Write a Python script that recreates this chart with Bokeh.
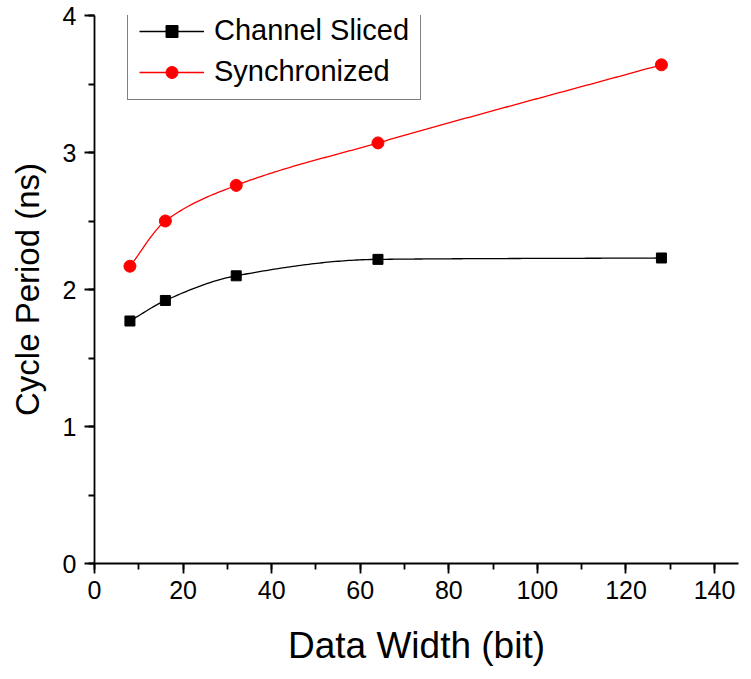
import numpy as np
from bokeh.plotting import figure
from bokeh.models import SingleIntervalTicker, Range1d, Legend, LegendItem
from bokeh.embed import file_html
from bokeh.resources import INLINE

# ---- data ----
data_width = [8, 16, 32, 64, 128]
channel_sliced = [1.77, 1.92, 2.10, 2.22, 2.23]
synchronized = [2.17, 2.50, 2.76, 3.07, 3.64]
series_names = ["Channel Sliced", "Synchronized"]
x_title = "Data Width (bit)"
y_title = "Cycle Period (ns)"


def smooth(xs, ys, n=200):
    """Monotone cubic (Fritsch-Carlson) curve through the data points."""
    x = np.asarray(xs, float)
    y = np.asarray(ys, float)
    h = np.diff(x)
    d = np.diff(y) / h
    m = np.zeros_like(y)
    m[0], m[-1] = d[0], d[-1]
    for i in range(1, len(x) - 1):
        if d[i - 1] * d[i] <= 0:
            m[i] = 0
        else:
            w1 = 2 * h[i] + h[i - 1]
            w2 = h[i] + 2 * h[i - 1]
            m[i] = (w1 + w2) / (w1 / d[i - 1] + w2 / d[i])
    xx = np.linspace(x[0], x[-1], n)
    idx = np.clip(np.searchsorted(x, xx) - 1, 0, len(x) - 2)
    t = (xx - x[idx]) / h[idx]
    h00 = 2 * t**3 - 3 * t**2 + 1
    h10 = t**3 - 2 * t**2 + t
    h01 = -2 * t**3 + 3 * t**2
    h11 = t**3 - t**2
    yy = h00 * y[idx] + h10 * h[idx] * m[idx] + h01 * y[idx + 1] + h11 * h[idx] * m[idx + 1]
    return xx, yy


p = figure(width=743, height=672, output_backend="svg", toolbar_location=None,
           x_range=Range1d(0, 145.4), y_range=Range1d(0, 4),
           min_border_left=94, min_border_right=5, min_border_top=15, min_border_bottom=109)
p.outline_line_color = None
p.xgrid.visible = False
p.ygrid.visible = False
p.background_fill_color = "white"

cx, cy = smooth(data_width, channel_sliced)
sx, sy = smooth(data_width, synchronized)

l1 = p.line(cx, cy, line_color="black", line_width=1.3)
m1 = p.scatter(data_width, channel_sliced, marker="square", size=10,
               fill_color="black", line_color="black")
l2 = p.line(sx, sy, line_color="#ff0000", line_width=1.3)
m2 = p.scatter(data_width, synchronized, marker="circle", size=12,
               fill_color="#ff0000", line_color="#ff0000")

legend = Legend(items=[LegendItem(label=series_names[0], renderers=[l1, m1]),
                       LegendItem(label=series_names[1], renderers=[l2, m2])],
                location=(33, 463))
legend.label_text_font = "Liberation Sans"
legend.label_text_font_size = "29px"
legend.label_text_color = "black"
legend.glyph_width = 65
legend.glyph_height = 30
legend.label_height = 30
legend.spacing = 8
legend.padding = 11
legend.margin = 0
legend.label_standoff = 10
legend.border_line_color = "black"
legend.border_line_width = 1.5
legend.background_fill_alpha = 1
p.add_layout(legend)

for ax in (p.xaxis[0], p.yaxis[0]):
    ax.axis_line_width = 1.8
    ax.major_tick_line_width = 1.8
    ax.minor_tick_line_width = 1.8
    ax.major_tick_in = 0
    ax.major_tick_out = 10
    ax.minor_tick_in = 0
    ax.minor_tick_out = 6
    ax.major_label_text_font = "Liberation Sans"
    ax.major_label_text_font_size = "25px"
    ax.major_label_text_color = "black"
    ax.axis_label_text_font = "Liberation Sans"
    ax.axis_label_text_font_style = "normal"
    ax.axis_label_text_color = "black"

p.xaxis[0].ticker = SingleIntervalTicker(interval=20, num_minor_ticks=2)
p.yaxis[0].ticker = SingleIntervalTicker(interval=1, num_minor_ticks=2)

p.xaxis[0].axis_label = x_title
p.xaxis[0].axis_label_text_font_size = "37px"
p.xaxis[0].major_label_standoff = 7
p.xaxis[0].axis_label_standoff = 23

p.yaxis[0].axis_label = y_title
p.yaxis[0].axis_label_text_font_size = "33px"
p.yaxis[0].major_label_standoff = 8
p.yaxis[0].axis_label_standoff = 14

open("out.html", "w").write(file_html(p, INLINE))
